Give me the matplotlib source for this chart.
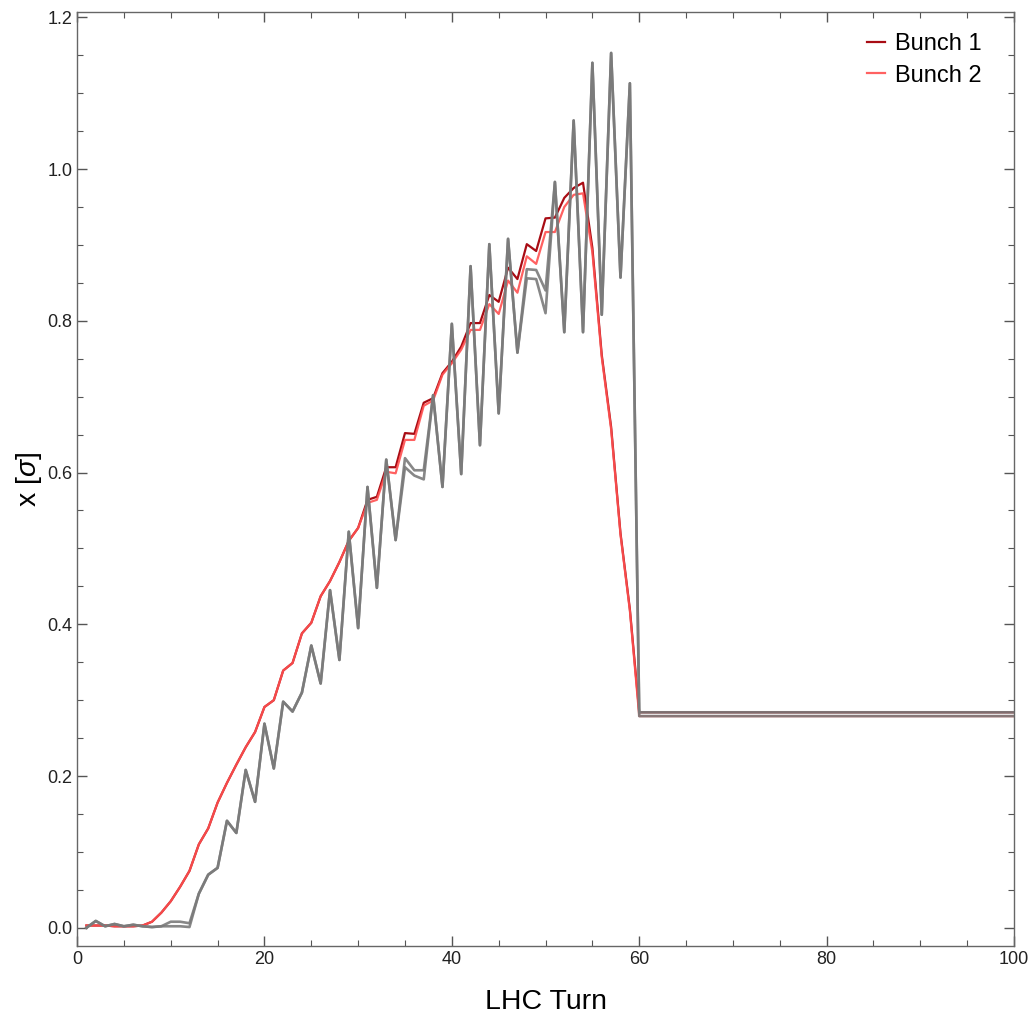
import matplotlib
matplotlib.use("Agg")
import matplotlib.pyplot as plt
from matplotlib.ticker import MultipleLocator

plt.rcParams['font.family'] = ['Liberation Sans', 'DejaVu Sans']
plt.rcParams['mathtext.fontset'] = 'custom'
plt.rcParams['mathtext.it'] = 'Liberation Sans:italic'
plt.rcParams['mathtext.rm'] = 'Liberation Sans'

turns = list(range(1, 61)) + [100]

bunch1 = [0.003, 0.003, 0.003, 0.002, 0.002, 0.002, 0.003, 0.008, 0.020, 0.035,
          0.054, 0.075, 0.110, 0.131, 0.165, 0.191, 0.215, 0.238, 0.258, 0.291,
          0.300, 0.339, 0.349, 0.388, 0.402, 0.437, 0.457, 0.482, 0.510, 0.527,
          0.564, 0.568, 0.607, 0.607, 0.652, 0.651, 0.692, 0.698, 0.731, 0.746,
          0.766, 0.797, 0.797, 0.834, 0.825, 0.870, 0.855, 0.901, 0.892, 0.935,
          0.936, 0.962, 0.975, 0.982, 0.896, 0.755, 0.660, 0.520, 0.420, 0.284,
          0.284]
bunch2 = [0.003, 0.003, 0.003, 0.002, 0.002, 0.002, 0.003, 0.008, 0.020, 0.035,
          0.054, 0.075, 0.110, 0.131, 0.165, 0.191, 0.215, 0.238, 0.258, 0.291,
          0.300, 0.339, 0.349, 0.388, 0.402, 0.437, 0.457, 0.482, 0.510, 0.527,
          0.560, 0.564, 0.601, 0.599, 0.643, 0.643, 0.688, 0.695, 0.729, 0.744,
          0.762, 0.788, 0.788, 0.822, 0.809, 0.853, 0.837, 0.885, 0.875, 0.917,
          0.917, 0.950, 0.966, 0.968, 0.890, 0.752, 0.657, 0.518, 0.418, 0.279,
          0.279]
gray_a = [0.000, 0.009, 0.002, 0.005, 0.002, 0.004, 0.002, 0.001, 0.002, 0.008,
          0.008, 0.006, 0.045, 0.070, 0.079, 0.141, 0.125, 0.208, 0.166, 0.269,
          0.210, 0.298, 0.285, 0.310, 0.372, 0.322, 0.445, 0.353, 0.522, 0.395,
          0.581, 0.448, 0.617, 0.511, 0.619, 0.603, 0.603, 0.702, 0.581, 0.796,
          0.598, 0.872, 0.636, 0.901, 0.678, 0.908, 0.758, 0.868, 0.867, 0.840,
          0.983, 0.785, 1.064, 0.785, 1.140, 0.808, 1.153, 0.857, 1.113, 0.284,
          0.284]
gray_b = [0.000, 0.009, 0.002, 0.005, 0.002, 0.004, 0.002, 0.001, 0.002, 0.002,
          0.002, 0.001, 0.045, 0.070, 0.079, 0.141, 0.125, 0.208, 0.166, 0.269,
          0.210, 0.298, 0.285, 0.310, 0.372, 0.322, 0.445, 0.353, 0.522, 0.395,
          0.581, 0.448, 0.617, 0.511, 0.607, 0.596, 0.591, 0.702, 0.581, 0.796,
          0.598, 0.872, 0.636, 0.901, 0.678, 0.908, 0.758, 0.856, 0.855, 0.810,
          0.983, 0.785, 1.064, 0.785, 1.140, 0.808, 1.153, 0.857, 1.113, 0.279,
          0.279]

fig = plt.figure(figsize=(10.30, 10.16), dpi=100)
ax = fig.add_axes([0.0748, 0.0689, 0.9097, 0.9193])

c1 = '#A80C14'
c2 = '#FF5050'
gc = '#7A7A7A'

l1, = ax.plot(turns, bunch1, color=c1, lw=1.6, label='Bunch 1', zorder=2)
l2, = ax.plot(turns, bunch2, color=c2, lw=1.6, alpha=0.9, label='Bunch 2', zorder=2)
ax.plot(turns, gray_a, color=gc, lw=1.9, alpha=0.9, zorder=3)
ax.plot(turns, gray_b, color=gc, lw=1.9, alpha=0.9, zorder=3)

ax.set_xlim(0, 100)
ax.set_ylim(-0.024, 1.207)
ax.xaxis.set_major_locator(MultipleLocator(20))
ax.xaxis.set_minor_locator(MultipleLocator(5))
ax.yaxis.set_major_locator(MultipleLocator(0.2))
ax.yaxis.set_minor_locator(MultipleLocator(0.05))
ax.yaxis.set_major_formatter(matplotlib.ticker.FormatStrFormatter('%.1f'))

ax.tick_params(which='both', direction='in', top=True, right=True,
               colors='#555555', labelcolor='#222222', labelsize=13)
ax.tick_params(which='major', length=7, width=1)
ax.tick_params(which='minor', length=4, width=0.8)
for s in ax.spines.values():
    s.set_color('#666666')
    s.set_linewidth(1)

ax.set_xlabel('LHC Turn', fontsize=20.5, labelpad=15)
ax.set_ylabel('x [$\\mathit{\\sigma}$]', fontsize=20.5, labelpad=2)

leg = ax.legend([l1, l2], ['Bunch 1', 'Bunch 2'], loc='upper right',
                bbox_to_anchor=(0.988, 1.0), frameon=False,
                fontsize=17, handlelength=0.8, handletextpad=0.4,
                labelspacing=0.4, borderaxespad=0.5)

fig.savefig('out.png', dpi=100)
